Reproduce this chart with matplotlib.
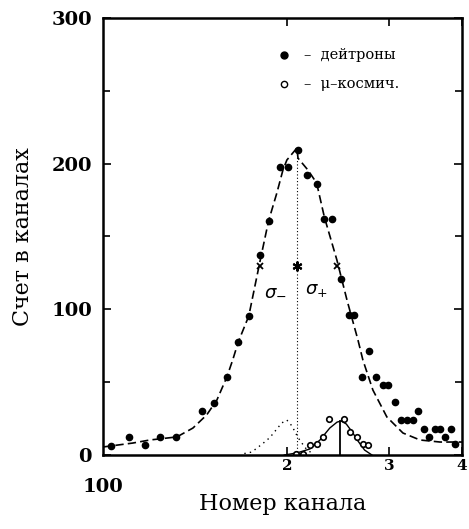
import matplotlib
matplotlib.use("Agg")
from matplotlib import pyplot as plt
from matplotlib.ticker import NullLocator, FixedLocator

plt.rcParams['font.family'] = ['DejaVu Serif']

# deuterons (filled points): channel, counts
deut_x = [99.6, 107, 114, 121, 129, 143, 150, 158, 165, 172, 180, 186, 195, 201, 209,
          217, 225, 232, 239, 248, 256, 261, 277, 269, 285, 293, 298, 307, 314, 322,
          329, 336, 344, 351, 359, 367, 374, 383, 389]
deut_y = [6.2, 12.4, 6.9, 12.4, 12.4, 30.2, 35.7, 53.5, 77.6, 95.4, 137, 160.6, 197.7, 197.7, 209.3,
          192.2, 186, 162, 162, 120.8, 96.1, 96.1, 71.4, 53.5, 53.5, 48, 48, 36.4, 24, 24,
          24, 30.2, 17.8, 12.4, 17.8, 17.8, 12.4, 17.8, 7.5]

# cosmic muons (open points)
mu_x = [207, 213, 219, 225, 231, 236, 251, 257, 264, 270, 276]
mu_y = [1, 1, 6.9, 7.5, 12.4, 24.7, 24.7, 15.8, 12.4, 7.5, 6.9]

# fit curve for deuterons (dashed)
fit_x = [96.6, 108.7, 116.3, 129.4, 137.9, 145.6, 151.6, 157.7, 161.4, 165, 172, 180, 186,
         192.2, 196.9, 200, 208.1, 209, 217.4, 225, 232, 243.8, 253.7, 265, 270.2, 281.1,
         297.1, 316.6, 338.7, 366.6, 400]
fit_y = [5.5, 8.2, 10.3, 12.4, 18.5, 27.5, 37.7, 53.5, 65.2, 77.6, 95.4, 133.8, 160.6,
         179.8, 195.6, 202.5, 210.7, 203.8, 195.6, 186.7, 163.3, 133.8, 106.4, 78.9, 65.2, 44.6,
         26.1, 15.1, 10.3, 8.9, 8.9]

# fit curve for muons (solid)
mufit_x = [198, 208, 219, 228, 237, 244, 248, 253, 259, 265, 272, 280]
mufit_y = [0, 1.4, 4.1, 10.3, 18.5, 22.6, 23.3, 21.3, 15.8, 9.6, 3.4, 0]

# dotted curve (muon peak shifted)
dot_x = [169, 174, 178, 182, 187, 191, 196, 200, 204, 209, 215, 221]
dot_y = [1, 2, 5, 8, 12, 16.5, 22, 24, 20, 12, 5, 1]

peak_ch = 208
mu_peak_ch = 247
sigma_minus = 180
sigma_plus = 244
half_level = 130

fig = plt.figure(figsize=(4.69, 5.29), dpi=100)
ax = fig.add_axes([0.2196, 0.1399, 0.7655, 0.8261])
ax.set_xscale('log')
ax.set_xlim(96.6, 400)
ax.set_ylim(0, 300)

ax.plot(fit_x, fit_y, color='black', lw=1.2, linestyle=(0, (5, 2.5)))
ax.plot(mufit_x, mufit_y, color='black', lw=1.0)
ax.plot(dot_x, dot_y, color='black', lw=1.0, linestyle=(0, (1, 3)))
ax.plot([peak_ch, peak_ch], [0, 210], color='black', lw=0.8, linestyle=(0, (1, 2)))
ax.plot([mu_peak_ch, mu_peak_ch], [0, 23.3], color='black', lw=1.3)

ax.plot(deut_x, deut_y, 'o', color='black', markersize=4.5)
ax.plot(mu_x, mu_y, 'o', markerfacecolor='white', markeredgecolor='black',
        markersize=4, markeredgewidth=1.2)

ax.plot([sigma_minus, sigma_plus], [half_level, half_level], 'x', color='black',
        markersize=4, markeredgewidth=1.3)
ax.plot([peak_ch], [half_level], marker=(6, 2, 0), color='black', markersize=7,
        markeredgewidth=1.5)

ax.text(191, 113, r'$\sigma_{-}$', fontsize=13, ha='center', va='center')
ax.text(225, 113, r'$\sigma_{+}$', fontsize=13, ha='center', va='center')

# legend drawn by hand like the original
ax.plot([0.505], [0.915], 'o', color='black', markersize=5, transform=ax.transAxes)
ax.plot([0.505], [0.85], 'o', markerfacecolor='white', markeredgecolor='black',
        markersize=4.5, transform=ax.transAxes)
ax.text(0.56, 0.915, '–  дейтроны', transform=ax.transAxes, fontsize=10.5, va='center')
ax.text(0.56, 0.85, '–  μ–космич.', transform=ax.transAxes, fontsize=10.5, va='center')

for s in ax.spines.values():
    s.set_linewidth(1.8)

ax.yaxis.set_major_locator(FixedLocator([0, 100, 200, 300]))
ax.yaxis.set_minor_locator(FixedLocator([50, 150, 250]))
ax.xaxis.set_major_locator(FixedLocator([200, 300, 400]))
ax.xaxis.set_minor_locator(NullLocator())
ax.set_xticklabels(['2', '3', '4'], fontsize=11, fontweight='bold')
ax.set_yticklabels(['0', '100', '200', '300'], fontsize=14, fontweight='bold')
ax.tick_params(which='both', direction='in', top=True, right=True, width=1.2)
ax.tick_params(which='major', length=6)
ax.tick_params(which='minor', length=5)
ax.tick_params(axis='y', pad=8)
ax.tick_params(axis='x', pad=3)

ax.text(0.0, -0.073, '100', transform=ax.transAxes, fontsize=14, fontweight='bold',
        ha='center', va='center')

ax.set_xlabel('Номер канала', fontsize=16, labelpad=14)
ax.set_ylabel('Счет в каналах', fontsize=16, labelpad=12)

plt.savefig('out.png', dpi=100)
